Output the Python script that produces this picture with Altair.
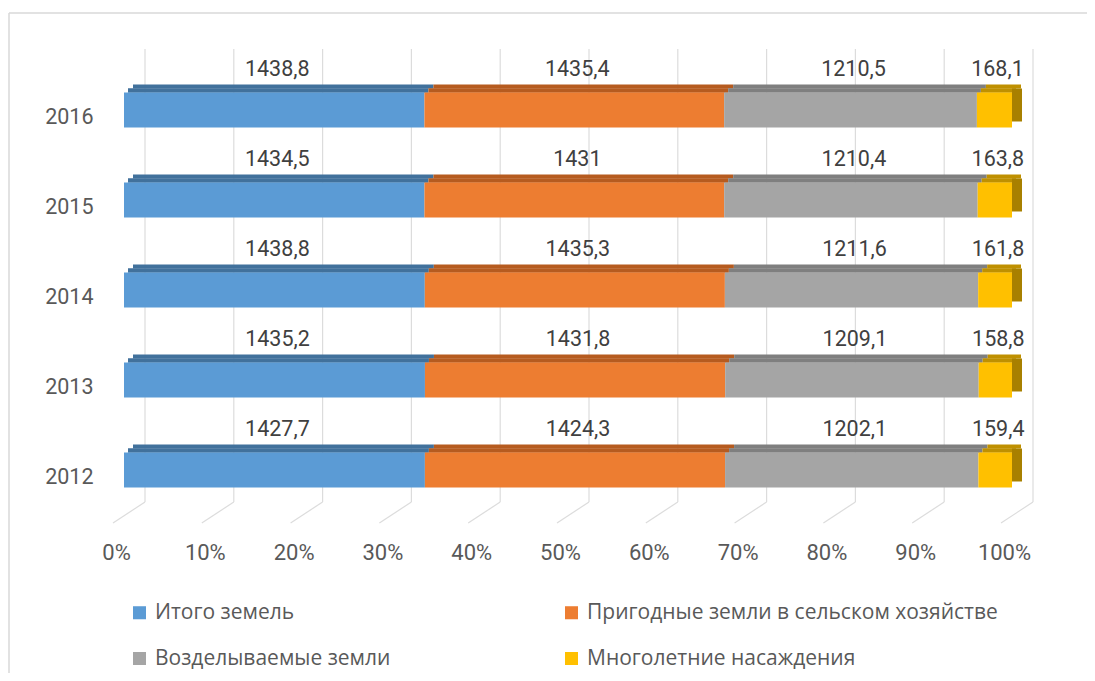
import altair as alt
import pandas as pd

years = ["2016", "2015", "2014", "2013", "2012"]
series = ["Итого земель", "Пригодные земли в сельском хозяйстве",
          "Возделываемые земли", "Многолетние насаждения"]
total_land = [1438.8, 1434.5, 1438.8, 1435.2, 1427.7]
arable_land = [1435.4, 1431.0, 1435.3, 1431.8, 1424.3]
cultivated_land = [1210.5, 1210.4, 1211.6, 1209.1, 1202.1]
perennial = [168.1, 163.8, 161.8, 158.8, 159.4]
ticks = [0, 0.1, 0.2, 0.3, 0.4, 0.5, 0.6, 0.7, 0.8, 0.9, 1.0]

front_colors = ["#5B9BD5", "#ED7D31", "#A5A5A5", "#FFC000"]
top_colors = ["#41719C", "#B65B1F", "#7F7F7F", "#BF9000"]

rows = []
for i, y in enumerate(years):
    for k, (s, vals) in enumerate(zip(series, [total_land, arable_land, cultivated_land, perennial])):
        rows.append({"year": y, "series": s, "order": k, "value": vals[i],
                     "top": s + " top"})
df = pd.DataFrame(rows)

W, H = 1078, 660
FONT = "Roboto"
TXT = "#595959"

xscale = alt.Scale(domain=[0, 1], range=[115, 1003], nice=False, zero=False)
yscale = alt.Scale(domain=years, range=[52, 502], paddingInner=0, paddingOuter=0)
cscale = alt.Scale(domain=series, range=front_colors)
tscale = alt.Scale(domain=[s + " top" for s in series], range=top_colors)

xaxis = alt.Axis(values=ticks, format=".0%", grid=False, domain=False, ticks=False,
                 tickSize=0, labelPadding=0, offset=-131, labelOffset=-8,
                 labelFlush=False, labelOverlap=False,
                 labelFont=FONT, labelFontSize=22, labelColor=TXT, title=None,
                 labelBaseline="top")
yaxis = alt.Axis(domain=False, ticks=False, tickSize=0, labelPadding=1, offset=-85,
                 labelOffset=8, labelFont=FONT, labelFontSize=21.5, labelColor=TXT,
                 title=None)


def X(field):
    return alt.X(field, scale=xscale, axis=xaxis, title=None)


def Y():
    return alt.Y("year:O", scale=yscale, axis=yaxis, title=None)


base = alt.Chart(df).transform_stack(
    stack="value", groupby=["year"], as_=["x0", "x1"], offset="normalize",
    sort=[alt.SortField("order", order="ascending")]
).transform_calculate(
    mid="(datum.x0 + datum.x1) / 2",
    label="replace('' + datum.value, '.', ',')"
)

tick_df = pd.DataFrame({"t": ticks})
grid_v = alt.Chart(tick_df).mark_rule(color="#DCDCDC", strokeWidth=1.2, xOffset=21).encode(
    x=X("t:Q"), y=alt.value(36), y2=alt.value(489))
grid_s = alt.Chart(tick_df).mark_rule(color="#DCDCDC", strokeWidth=1.2, xOffset=21, x2Offset=-11).encode(
    x=X("t:Q"), x2="t:Q", y=alt.value(489), y2=alt.value(510))

top_back = base.mark_bar(height=4, yOffset=-23.5, xOffset=9, x2Offset=9).encode(
    x=X("x0:Q"), x2="x1:Q", y=Y(),
    color=alt.Color("top:N", scale=tscale, legend=None))
top_front = base.mark_bar(height=4.5, yOffset=-19.5, xOffset=4, x2Offset=4).encode(
    x=X("x0:Q"), x2="x1:Q", y=Y(),
    color=alt.Color("top:N", scale=tscale, legend=None))
side = base.transform_filter(alt.datum.order == 3).mark_bar(
    height=33, yOffset=-5, x2Offset=10, color="#A88000").encode(
    x=X("x1:Q"), x2="x1:Q", y=Y())

front = base.mark_bar(height=35).encode(
    x=X("x0:Q"), x2="x1:Q", y=Y(),
    color=alt.Color("series:N", scale=cscale,
                    legend=alt.Legend(orient="none", legendX=120, legendY=589, columns=2,
                                      direction="horizontal",
                                      columnPadding=170, rowPadding=24, title=None,
                                      symbolType="square", symbolSize=170,
                                      symbolStrokeWidth=0, labelFont="Open Sans",
                                      labelFontSize=21, labelColor=TXT, labelOffset=5,
                                      labelLimit=600, padding=0)),
    order=alt.Order("order:Q"))

labels = base.mark_text(font=FONT, fontSize=21.5, color="#404040", dy=-40, dx=3).encode(
    x=X("mid:Q"), y=Y(), text="label:N")

frame_src = alt.Data(values=[{"a": 1}])
frame_l = alt.Chart(frame_src).mark_rule(color="#D9D9D9", strokeWidth=1.5).encode(
    x=alt.value(0), y=alt.value(0), y2=alt.value(H))
frame_t = alt.Chart(frame_src).mark_rule(color="#D9D9D9", strokeWidth=1.5).encode(
    x=alt.value(0), x2=alt.value(W), y=alt.value(0))

chart = alt.layer(
    frame_l, frame_t, grid_v, grid_s, top_back, top_front, side, front, labels
).resolve_scale(color="independent").properties(
    width=W, height=H,
    autosize=alt.AutoSizeParams(type="none"),
    padding={"left": 1, "top": 5, "right": 0, "bottom": 0},
    background="white"
).configure_view(stroke=None)

chart.save("out.html", embed_options={"renderer": "svg", "actions": False})
